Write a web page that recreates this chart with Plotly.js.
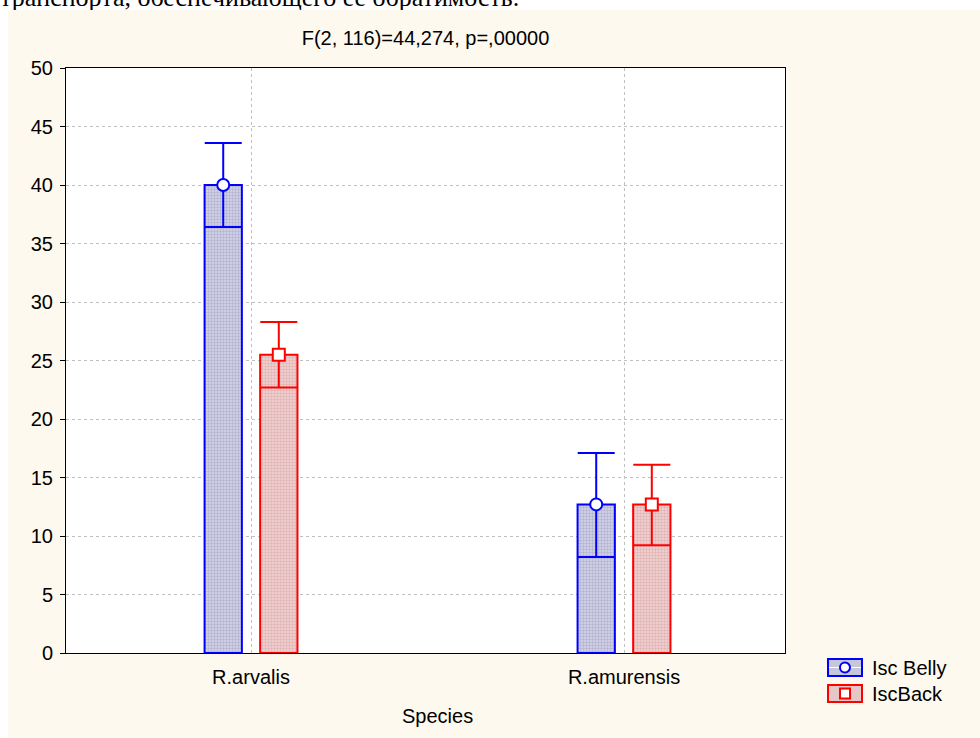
<!DOCTYPE html>
<html>
<head>
<meta charset="utf-8">
<script src="https://cdn.plot.ly/plotly-3.0.1.min.js"></script>
<style>
  html, body { margin:0; padding:0; width:980px; height:738px; background:#ffffff; overflow:hidden; }
  #top { position:absolute; left:0px; top:-17px; font-family:"Liberation Serif", "DejaVu Serif", serif; font-size:26px; color:#000; white-space:nowrap; }
  #chart { position:absolute; left:8px; top:10px; width:972px; height:728px; }
</style>
</head>
<body>
<div id="top">транспорта, обеспечивающего ее обратимость.</div>
<div id="chart"></div>
<script>
// ---- data ----
const categories = ['R.arvalis', 'R.amurensis'];
const seriesNames = ['Isc Belly', 'IscBack'];
const bellyMean  = [40.0, 12.7];
const bellyUpper = [43.6, 17.1];
const bellyLower = [36.4, 8.2];
const backMean   = [25.5, 12.7];
const backUpper  = [28.3, 16.1];
const backLower  = [22.7, 9.2];
const yTicks = [0, 5, 10, 15, 20, 25, 30, 35, 40, 45, 50];
const chartTitle = 'F(2, 116)=44,274, p=,00000';
const xTitle = 'Species';

// ---- styling ----
const FONT = '"Liberation Sans", Arial, sans-serif';
const FS = 20;
const BG = '#fdf9ee';
const blue = '#0000ff', red = '#ff0000';
const blueFill = '#c6c6dc', redFill = '#e9c6c6';
const off = 0.0745, bw = 0.1;

const idx = categories.map((c, i) => i);
const xB = idx.map(i => i - off);
const xR = idx.map(i => i + off);

function diff(a, b) { return a.map((v, i) => v - b[i]); }

const traces = [
  { type:'bar', x:xB, y:bellyMean, width:bw, showlegend:false, hoverinfo:'skip',
    marker:{ color:blueFill, line:{color:blue, width:2},
      pattern:{shape:'.', fgcolor:'#9090bc', bgcolor:'#d6d6e8', size:3, solidity:0.5, fillmode:'overlay'} } },
  { type:'bar', x:xR, y:backMean, width:bw, showlegend:false, hoverinfo:'skip',
    marker:{ color:redFill, line:{color:red, width:2},
      pattern:{shape:'.', fgcolor:'#d49090', bgcolor:'#f0d6d6', size:3, solidity:0.5, fillmode:'overlay'} } },
  { type:'scatter', mode:'markers', x:xB, y:bellyMean, name:seriesNames[0], showlegend:false,
    marker:{ symbol:'circle', size:12, color:'#ffffff', line:{color:blue, width:2} },
    error_y:{ type:'data', symmetric:false, array:diff(bellyUpper, bellyMean), arrayminus:diff(bellyMean, bellyLower),
      color:blue, thickness:2, width:18.5 } },
  { type:'scatter', mode:'markers', x:xR, y:backMean, name:seriesNames[1], showlegend:false,
    marker:{ symbol:'square', size:12, color:'#ffffff', line:{color:red, width:2} },
    error_y:{ type:'data', symmetric:false, array:diff(backUpper, backMean), arrayminus:diff(backMean, backLower),
      color:red, thickness:2, width:18.5 } }
];

// plot area in page pixels: x 66..785, y 68..653 ; chart div offset (8,10)
const PL = 66, PR = 785, PT = 68, PB = 653;
const px = v => (v - PL) / (PR - PL);
const py = v => (PB - v) / (PB - PT);

const shapes = [
  // legend swatches
  { type:'rect', xref:'paper', yref:'paper', x0:px(828), x1:px(862), y0:py(676), y1:py(659),
    fillcolor:blueFill, line:{color:blue, width:2} },
  { type:'line', xref:'paper', yref:'paper', x0:px(829), x1:px(861), y0:py(667.5), y1:py(667.5), line:{color:'#ffffff', width:1} },
  { type:'circle', xref:'paper', yref:'paper', x0:px(840), x1:px(850), y0:py(672.5), y1:py(662.5),
    fillcolor:'#ffffff', line:{color:blue, width:2} },
  { type:'rect', xref:'paper', yref:'paper', x0:px(828), x1:px(862), y0:py(702), y1:py(685),
    fillcolor:redFill, line:{color:red, width:2} },
  { type:'rect', xref:'paper', yref:'paper', x0:px(840), x1:px(850), y0:py(698.5), y1:py(688.5),
    fillcolor:'#ffffff', line:{color:red, width:2} }
];

const annotations = [
  { xref:'paper', yref:'paper', x:px(437), y:py(716), text:xTitle, showarrow:false,
    xanchor:'center', yanchor:'middle', font:{family:FONT, size:FS, color:'#000'} },
  { xref:'paper', yref:'paper', x:px(870), y:py(667.5), text:seriesNames[0], showarrow:false,
    xanchor:'left', yanchor:'middle', font:{family:FONT, size:FS, color:'#000'} },
  { xref:'paper', yref:'paper', x:px(870), y:py(693.5), text:seriesNames[1], showarrow:false,
    xanchor:'left', yanchor:'middle', font:{family:FONT, size:FS, color:'#000'} }
];

const layout = {
  width:972, height:728,
  margin:{ l:PL-8, r:980-PR, t:PT-10, b:738-10-(PB-10) },
  paper_bgcolor:BG, plot_bgcolor:'#ffffff',
  font:{ family:FONT, size:FS, color:'#000' },
  barmode:'overlay',
  title:{ text:chartTitle, x:0.5, xref:'paper', xanchor:'center', y:1-28/728, yref:'container', yanchor:'middle',
    font:{family:FONT, size:FS, color:'#000'} },
  xaxis:{ range:[-0.496, 1.4316], tickmode:'array', tickvals:idx, ticktext:categories,
    showgrid:true, gridcolor:'#c0c0c0', griddash:'dot', gridwidth:1,
    showline:true, linecolor:'#000', linewidth:1, mirror:true, ticks:'', zeroline:false, ticklabelstandoff:6,
    tickfont:{family:FONT, size:FS, color:'#000'}, fixedrange:true },
  yaxis:{ range:[0, 50], tickmode:'array', tickvals:yTicks,
    showgrid:true, gridcolor:'#c0c0c0', griddash:'dot', gridwidth:1,
    showline:true, linecolor:'#000', linewidth:1, mirror:true, ticks:'outside', ticklen:5, tickcolor:'#000',
    ticklabelstandoff:3,
    zeroline:false, tickfont:{family:FONT, size:FS, color:'#000'}, fixedrange:true },
  shapes:shapes, annotations:annotations, showlegend:false
};

Plotly.newPlot('chart', traces, layout, {displayModeBar:false, staticPlot:true});
</script>
</body>
</html>
